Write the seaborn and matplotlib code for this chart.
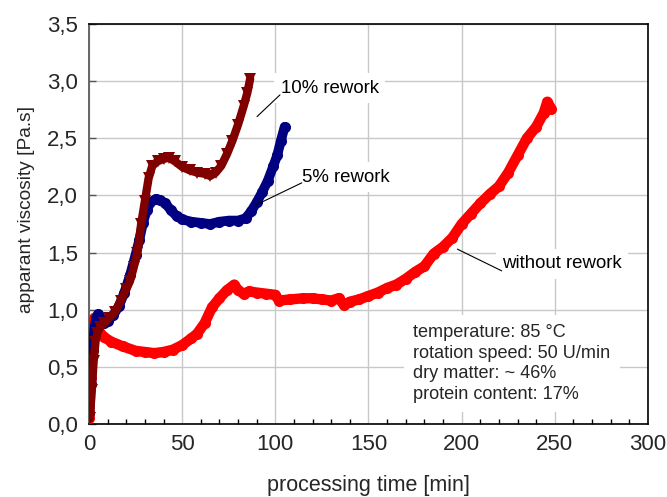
import numpy as np
import pandas as pd
import matplotlib
matplotlib.use("Agg")
import matplotlib.pyplot as plt
import seaborn as sns
from matplotlib.ticker import MultipleLocator, FuncFormatter

# viscosity curves: processing time [min] and apparent viscosity [Pa.s]
t_none = [0, 1, 2, 3, 5, 8, 12, 18, 25, 30, 35, 40, 45, 50, 55, 58, 62, 66, 70, 74,
          78, 80, 83, 86, 90, 95, 100, 102, 108, 115, 120, 125, 130, 134, 137, 140,
          145, 150, 155, 160, 165, 170, 175, 180, 185, 190, 195, 200, 205, 210, 215,
          220, 225, 230, 235, 240, 244, 246, 248]
v_none = [0.05, 0.40, 0.85, 0.93, 0.82, 0.76, 0.72, 0.68, 0.64, 0.63, 0.62, 0.63, 0.65,
          0.69, 0.75, 0.79, 0.88, 1.02, 1.10, 1.17, 1.22, 1.17, 1.14, 1.16, 1.15, 1.14,
          1.13, 1.08, 1.09, 1.10, 1.10, 1.09, 1.08, 1.10, 1.04, 1.07, 1.09, 1.12, 1.15,
          1.19, 1.22, 1.27, 1.33, 1.38, 1.49, 1.55, 1.63, 1.75, 1.84, 1.93, 2.01, 2.08,
          2.20, 2.35, 2.50, 2.60, 2.72, 2.82, 2.76]

t_5 = [0, 1, 2, 3, 4, 5, 6, 8, 10, 13, 16, 19, 22, 25, 27, 29, 31, 33, 36, 38, 41, 44,
       47, 50, 55, 60, 65, 70, 75, 80, 84, 87, 90, 93, 96, 99, 101, 103, 105]
v_5 = [0.10, 0.35, 0.65, 0.85, 0.93, 0.96, 0.93, 0.88, 0.90, 0.95, 1.03, 1.15, 1.30,
       1.48, 1.61, 1.76, 1.87, 1.94, 1.97, 1.96, 1.93, 1.87, 1.82, 1.79, 1.77, 1.76,
       1.75, 1.77, 1.78, 1.78, 1.80, 1.86, 1.94, 2.03, 2.13, 2.26, 2.35, 2.48, 2.60]

t_10 = [0.5, 1.5, 2.5, 3.5, 4.5, 6, 8, 11, 14, 17, 20, 22, 24, 26, 28, 30, 32, 34, 37,
        40, 43, 46, 50, 54, 58, 62, 65, 68, 71, 74, 77, 80, 83, 85, 86.5]
v_10 = [0.05, 0.30, 0.55, 0.72, 0.80, 0.85, 0.88, 0.93, 0.98, 1.08, 1.18, 1.25, 1.37,
        1.50, 1.75, 1.95, 2.15, 2.26, 2.30, 2.32, 2.33, 2.30, 2.25, 2.22, 2.20, 2.19,
        2.17, 2.20, 2.26, 2.36, 2.48, 2.62, 2.78, 2.90, 3.02]

x_ticks = [0, 50, 100, 150, 200, 250, 300]
y_ticks = [0.0, 0.5, 1.0, 1.5, 2.0, 2.5, 3.0, 3.5]

conditions = ["temperature: 85 °C", "rotation speed: 50 U/min",
              "dry matter: ~ 46%", "protein content: 17%"]

sns.set_theme(style="white")
plt.rcParams["font.family"] = ["Liberation Sans", "DejaVu Sans"]
plt.rcParams["font.size"] = 13

fig = plt.figure(figsize=(6.67, 4.97), dpi=100)
ax = fig.add_axes([0.1334, 0.1469, 0.8381, 0.8048])

df_none = pd.DataFrame({"t": t_none, "v": v_none})
df_5 = pd.DataFrame({"t": t_5, "v": v_5})
df_10 = pd.DataFrame({"t": t_10, "v": v_10})

sns.lineplot(data=df_none, x="t", y="v", ax=ax, color="#ff0000", lw=7.5,
             marker="o", markersize=8, markeredgewidth=0, sort=False,
             solid_capstyle="round", solid_joinstyle="round", zorder=3)
sns.lineplot(data=df_5, x="t", y="v", ax=ax, color="#000080", lw=7,
             marker="o", markersize=8, markeredgewidth=0, sort=False,
             solid_capstyle="round", solid_joinstyle="round", zorder=4)
sns.lineplot(data=df_10, x="t", y="v", ax=ax, color="#800000", lw=6,
             marker="v", markersize=8, markeredgewidth=0, sort=False,
             solid_capstyle="round", solid_joinstyle="round", zorder=5)

ax.set_xlim(0, 300)
ax.set_ylim(0, 3.5)
ax.set_xticks(x_ticks)
ax.set_yticks(y_ticks)
ax.xaxis.set_minor_locator(MultipleLocator(10))
ax.yaxis.set_major_formatter(FuncFormatter(lambda v, p: f"{v:.1f}".replace(".", ",")))

ax.set_axisbelow(True)
ax.grid(True, which="major", color="#c8c8c8", lw=1.0)
ax.tick_params(axis="x", which="major", direction="in", length=5, width=1,
               color="black", pad=7, labelsize=16)
ax.tick_params(axis="x", which="minor", direction="in", length=3.5, width=1,
               color="black", bottom=True)
ax.tick_params(axis="y", which="major", direction="in", length=5, width=1,
               color="#555555", pad=8, labelsize=16, left=True)
for side in ["top", "right", "bottom"]:
    ax.spines[side].set_color("black")
    ax.spines[side].set_linewidth(1.2)
ax.spines["left"].set_color("#666666")
ax.spines["left"].set_linewidth(1.4)

ax.set_xlabel("processing time [min]", fontsize=15.5)
ax.set_ylabel("apparant viscosity [Pa.s]", fontsize=13.8)
ax.xaxis.set_label_coords(0.5, -0.128)
ax.yaxis.set_label_coords(-0.097, 0.535)

# curve labels with leader lines
lbl = dict(fontsize=13.4, color="black", va="center", ha="left", zorder=6,
           bbox=dict(boxstyle="square,pad=0.35", fc="white", ec="none"))
ax.text(102.8, 2.94, "10% rework", **lbl)
ax.plot([90.2, 102.5], [2.69, 2.88], color="black", lw=0.8, zorder=7)
ax.text(114.5, 2.16, "5% rework", **lbl)
ax.plot([90.0, 114.2], [1.92, 2.11], color="black", lw=0.8, zorder=7)
ax.text(221.8, 1.40, "without rework", **lbl)
ax.plot([197.7, 221.5], [1.53, 1.34], color="black", lw=0.8, zorder=7)

# measurement conditions
ax.text(174, 0.53, "\n".join(conditions), fontsize=13.1, va="center", ha="left",
        linespacing=1.28, zorder=6,
        bbox=dict(boxstyle="square,pad=0.5", fc="white", ec="none"))

fig.savefig("out.png", dpi=100)
